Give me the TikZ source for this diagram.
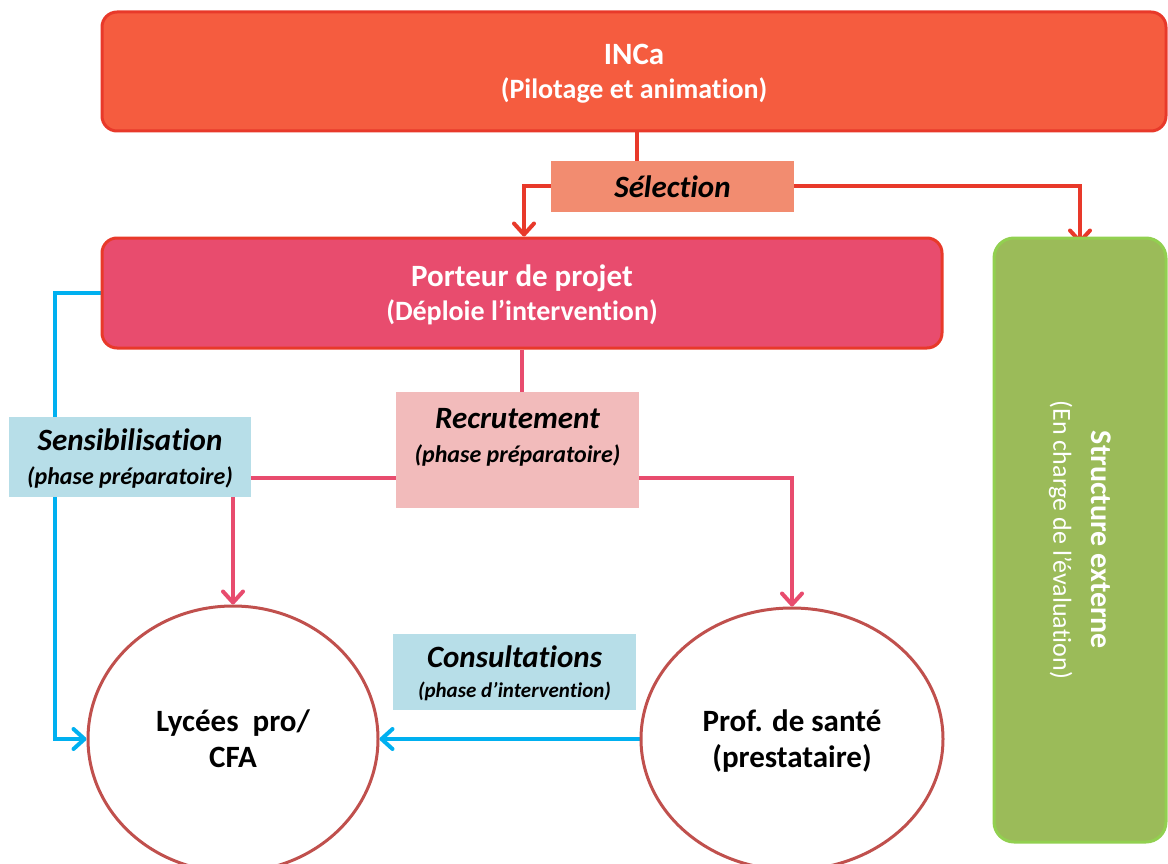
\documentclass[tikz,border=0pt]{standalone}
\usepackage{fontspec}
\setmainfont{Carlito}[Ligatures=NoCommon]
\usepackage{tikz}
\usetikzlibrary{shapes.geometric, arrows.meta, backgrounds}

\definecolor{incared}{HTML}{F55C3F}
\definecolor{edgered}{HTML}{E8392A}
\definecolor{selsalmon}{HTML}{F28C70}
\definecolor{porteurpink}{HTML}{E84C6E}
\definecolor{recrutpink}{HTML}{F2BBBB}
\definecolor{phaseblue}{HTML}{B7DEE8}
\definecolor{linkblue}{HTML}{00B0F0}
\definecolor{circlered}{HTML}{C0504D}
\definecolor{evalgreen}{HTML}{9BBB59}
\definecolor{evaledge}{HTML}{92D050}

\begin{document}
\begin{tikzpicture}[x=1pt, y=-1pt,
        mainbox/.style={draw=edgered, line width=3pt, rounded corners=15pt, text=white, align=center,
            text depth=-9pt, font=\fontsize{28}{34}\selectfont\bfseries},
        phasebox/.style={inner sep=0pt, align=center, font=\fontsize{24}{34}\selectfont\bfseries\itshape},
        lowtext/.style={text depth=-7pt},
        place/.style={ellipse, draw=circlered, line width=3pt, fill=white, align=center, inner sep=0pt,
            text depth=-8pt, font=\fontsize{31}{36}\selectfont\bfseries},
        redlink/.style={draw=edgered, line width=4pt},
        pinklink/.style={draw=porteurpink, line width=4pt},
        bluelink/.style={draw=linkblue, line width=4pt},
        arrowtip/.style={-{Straight Barb[length=11pt,width=20pt,round]}}]
        \useasboundingbox (0,0) rectangle (1168,864);
        % boxes
        \node[mainbox, fill=incared, minimum width=1064pt, minimum height=119pt] (inca) at (634,71.5)
            {{\fontsize{31}{34}\selectfont INCa}\\(Pilotage et animation)};
        \node[phasebox, fill=selsalmon, minimum width=243pt, minimum height=51pt,
            font=\fontsize{31}{34}\selectfont\bfseries\itshape] (selection) at (672.5,186.5) {Sélection};
        \node[mainbox, fill=porteurpink, minimum width=840pt, minimum height=110pt] (porteur) at (522,293)
            {{\fontsize{31}{34}\selectfont Porteur de projet}\\(Déploie l’intervention)};
        \node[draw=evaledge, fill=evalgreen, line width=3pt, rounded corners=20pt, rotate=-90,
            minimum width=604pt, minimum height=172pt, text=white, align=center,
            font=\fontsize{26}{38}\selectfont] (structure) at (1080,540)
            {{\fontsize{30}{35}\selectfont\bfseries Structure externe}\\(En charge de l’évaluation)};
        \node[phasebox, fill=recrutpink, minimum width=243pt, minimum height=116pt, text depth=30pt]
            (recrutement) at (517.5,450)
            {{\fontsize{31}{34}\selectfont Recrutement}\\(phase préparatoire)};
        \node[phasebox, lowtext, fill=phaseblue, minimum width=242pt, minimum height=80pt] (sensibilisation) at (130,457)
            {{\fontsize{31}{34}\selectfont Sensibilisation}\\(phase préparatoire)};
        \node[phasebox, lowtext, fill=phaseblue, minimum width=243pt, minimum height=76pt,
            font=\fontsize{21}{30}\selectfont\bfseries\itshape] (consultations) at (514.5,672)
            {{\fontsize{31}{34}\selectfont Consultations}\\(phase d’intervention)};
        % places
        \node[place, minimum width=290pt, minimum height=266pt] (lycees) at (233,739) {Lycées\ \ pro/\\CFA};
        \node[place, minimum width=302pt, minimum height=262pt] (prof) at (792,739) {Prof. de santé\\(prestataire)};
        % links
        \begin{scope}[on background layer]
            \draw[redlink] ([xshift=-35.5pt]selection.north) -- ([xshift=-35.5pt]selection.north |- inca.south);
            \draw[redlink, arrowtip] (selection.west) -| ([xshift=2pt]porteur.north);
            \draw[redlink, arrowtip] (selection.east) -| ([yshift=-7pt]structure.west);
            \draw[pinklink] (porteur.south) -- (porteur.south |- recrutement.north);
            \draw[pinklink, arrowtip] ([yshift=-28pt]recrutement.west) -| (lycees.north);
            \draw[pinklink, arrowtip] ([yshift=-28pt]recrutement.east) -| (prof.north);
            \draw[bluelink, arrowtip] (porteur.west) -- ++(-46,0) |- (lycees.west);
            \draw[bluelink, arrowtip] (prof.west) -- (lycees.east);
        \end{scope}
    \end{tikzpicture}
\end{document}
